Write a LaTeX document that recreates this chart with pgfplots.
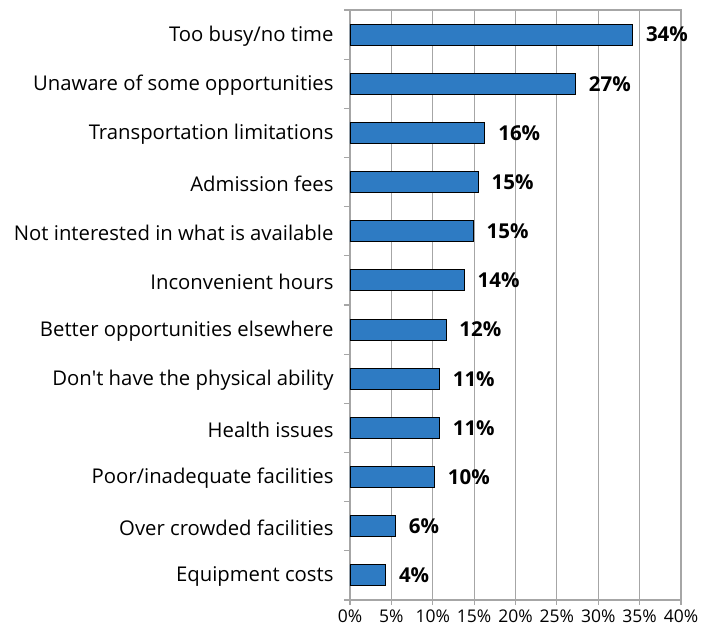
\documentclass[border=0pt]{standalone}
\usepackage{pgfplots}
\pgfplotsset{compat=1.18}
\usepackage{fontspec}
\setmainfont{Open Sans}
\definecolor{barblue}{HTML}{2E7BC3}
\definecolor{gridgray}{HTML}{A6A6A6}
\begin{document}
\begin{tikzpicture}
\useasboundingbox (-350bp,-25bp) rectangle (365bp,600bp);
\begin{axis}[
  at={(0,0)}, anchor=south west,
  scale only axis, width=331bp, height=590bp,
  xbar, bar width=21bp,
  xmin=0, xmax=40, ymin=-0.5, ymax=11.5, y dir=reverse,
  xtick={0,5,...,40},
  xticklabel={\pgfmathprintnumber{\tick}\%},
  /pgf/number format/assume math mode=true,
  ytick={0,...,11},
  yticklabels={Too busy/no time, Unaware of some opportunities, Transportation limitations, Admission fees, Not interested in what is available, Inconvenient hours, Better opportunities elsewhere, Don\textquotesingle t have the physical ability, Health issues, Poor/inadequate facilities, Over crowded facilities, Equipment costs},
  major y tick style={draw=none},
  minor ytick={-0.5,0.5,...,11.5},
  minor tick length=6bp,
  major tick length=5bp,
  tick align=outside,
  xtick pos=bottom, ytick pos=left,
  xmajorgrids, grid style={gridgray, line width=1.2bp},
  axis line style={gridgray, line width=1.2bp},
  every tick/.style={gridgray, line width=1.2bp},
  yticklabel style={font=\fontsize{20.3bp}{23bp}\selectfont, xshift=-8bp, yshift=-1.5bp},
  xticklabel style={font=\fontsize{17.5bp}{19bp}\selectfont, yshift=-1bp},
]
\addplot[fill=barblue, draw=black, line width=0.9bp,
  nodes near coords={\pgfplotspointmeta\%},
  point meta=explicit symbolic,
  every node near coord/.append style={anchor=west, inner sep=0pt, xshift=13bp, font=\fontsize{20.5bp}{22bp}\selectfont\bfseries, text=black}]
  table[x=x, y=y, meta=lab] {
x y lab
34.15 0 34
27.25 1 27
16.3 2 16
15.5 3 15
14.9 4 15
13.8 5 14
11.6 6 12
10.8 7 11
10.8 8 11
10.2 9 10
5.5 10 6
4.3 11 4
};
\end{axis}
\end{tikzpicture}
\end{document}
